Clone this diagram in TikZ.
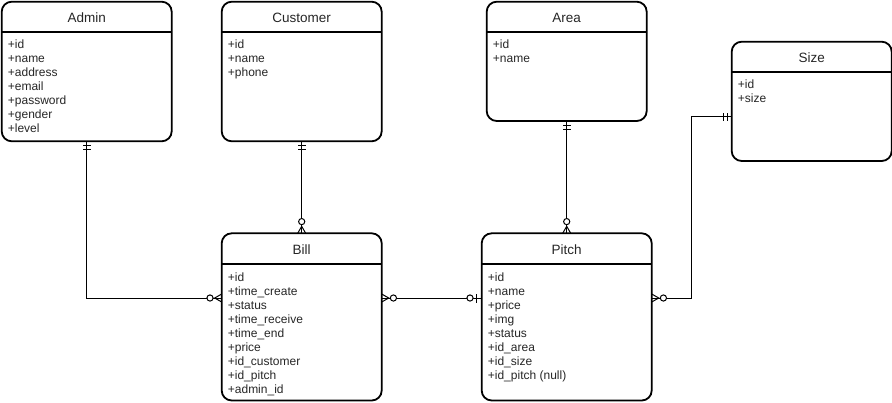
\documentclass[tikz,border=0pt]{standalone}
\usepackage{fontspec}
\setmainfont{Liberation Sans}
\begin{document}
\begin{tikzpicture}[x=1pt,y=-1pt,
  entity/.style={draw=black, line width=1.8pt, rounded corners=10pt, outer sep=0pt, inner sep=0pt},
  sepline/.style={line width=1.8pt},
  title/.style={inner sep=0pt, text height=9.6pt, text depth=0pt, anchor=center, font=\fontsize{13.5}{15}\selectfont, text=black!85},
  attr/.style={inner sep=0pt, text height=8.6pt, text depth=0pt, anchor=west, font=\fontsize{12}{14}\selectfont, text=black!85},
  conn/.style={line width=1pt, black},
  mone/.pic={\draw[conn] (4.5,-4.2)--(4.5,4.2) (8.5,-4.2)--(8.5,4.2);},
  zmany/.pic={\draw[conn] (0,-4)--(7,0)--(0,4); \draw[conn,fill=white] (11.7,0) circle[radius=3.1pt];},
  zone/.pic={\draw[conn] (5,-4.5)--(5,4.5); \draw[conn,fill=white] (11.7,0) circle[radius=3.1pt];}
]
\useasboundingbox (0,0) rectangle (892,402);

% entities
\node[entity, minimum width=170pt, minimum height=139.6pt] (admin) at (86.7,71.5) {};
\node[entity, minimum width=160pt, minimum height=139.6pt] (customer) at (301.7,71.5) {};
\node[entity, minimum width=160pt, minimum height=119.3pt] (area) at (566.7,61.35) {};
\node[entity, minimum width=160pt, minimum height=119.3pt] (size) at (811.7,101.35) {};
\node[entity, minimum width=160pt, minimum height=167.2pt] (bill) at (301.7,316.9) {};
\node[entity, minimum width=170pt, minimum height=167.2pt] (pitch) at (566.7,316.9) {};

% header separators and titles
\foreach \e/\t in {admin/Admin, customer/Customer, area/Area, size/Size, bill/Bill, pitch/Pitch}{
  \draw[sepline] ([yshift=-30.6pt]\e.north west) -- ([yshift=-30.6pt]\e.north east);
  \node[title] (\e-t) at ([yshift=-16pt]\e.north) {\t};
}

% attributes
\foreach \t [count=\i] in {id,name,address,email,password,gender,level}
  \node[attr] (admin-\i) at ([xshift=6pt,yshift={-28.5pt-14pt*\i}]admin.north west) {+\t};
\foreach \t [count=\i] in {id,name,phone}
  \node[attr] (customer-\i) at ([xshift=6pt,yshift={-28.5pt-14pt*\i}]customer.north west) {+\t};
\foreach \t [count=\i] in {id,name}
  \node[attr] (area-\i) at ([xshift=6pt,yshift={-28.5pt-14pt*\i}]area.north west) {+\t};
\foreach \t [count=\i] in {id,size}
  \node[attr] (size-\i) at ([xshift=6pt,yshift={-28.5pt-14pt*\i}]size.north west) {+\t};
\foreach \t [count=\i] in {id,time\_create,status,time\_receive,time\_end,price,id\_customer,id\_pitch,admin\_id}
  \node[attr] (bill-\i) at ([xshift=6pt,yshift={-29.5pt-14pt*\i}]bill.north west) {+\t};
\foreach \t [count=\i] in {id,name,price,img,status,id\_area,id\_size,id\_pitch (null)}
  \node[attr] (pitch-\i) at ([xshift=6pt,yshift={-29.5pt-14pt*\i}]pitch.north west) {+\t};

% helper coordinates
\coordinate (row) at (0,298);
\coordinate (srow) at (0,116.7);
\coordinate (sbend) at (691.7,298);

% connectors
\draw[conn] (admin.south) |- (bill.west |- row);
\draw[conn] (customer.south) -- (bill.north);
\draw[conn] (bill.east |- row) -- (pitch.west |- row);
\draw[conn] (area.south) -- (pitch.north);
\draw[conn] (size.west |- srow) -| (sbend) -- (pitch.east |- row);

% end markers
\pic[rotate=-90] at (admin.south) {mone};
\pic[rotate=180] at (bill.west |- row) {zmany};
\pic[rotate=-90] at (customer.south) {mone};
\pic[rotate=90] at (bill.north) {zmany};
\pic[rotate=0] at (bill.east |- row) {zmany};
\pic[rotate=180] at (pitch.west |- row) {zone};
\pic[rotate=-90] at (area.south) {mone};
\pic[rotate=90] at (pitch.north) {zmany};
\pic[rotate=180] at (size.west |- srow) {mone};
\pic[rotate=0] at (pitch.east |- row) {zmany};
\end{tikzpicture}
\end{document}
